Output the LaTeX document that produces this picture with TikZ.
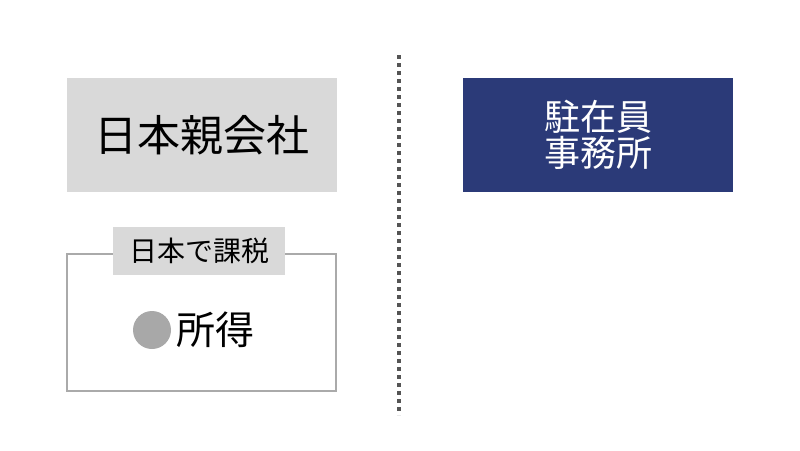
\documentclass[tikz,border=0pt]{standalone}
\usepackage{fontspec}
\setmainfont{Noto Sans CJK JP}
\usetikzlibrary{positioning}
\definecolor{boxgray}{HTML}{D9D9D9}
\definecolor{navy}{HTML}{2B3A78}
\definecolor{framegray}{HTML}{AAAAAA}
\definecolor{dotgray}{HTML}{A8A8A8}
\definecolor{linegray}{HTML}{555555}
\tikzstyle{company}=[fill=boxgray, minimum width=270, minimum height=114, inner sep=0, font=\fontsize{43}{46}\selectfont]
\tikzstyle{office}=[fill=navy, text=white, minimum width=270, minimum height=114, inner sep=0, align=center, font=\fontsize{36}{36}\selectfont]

\begin{document}
\begin{tikzpicture}[x=1pt,y=-1pt]
\useasboundingbox (0,0) rectangle (800,450);
\node[company] (parent) at (202,135) {日本親会社};
\node[office] (rep) at (598,135) {駐在員\\事務所};
% taxed box
\draw[framegray, line width=2.5] (67,254) rectangle (336,391);
\node[fill=boxgray, minimum width=172, minimum height=48, inner sep=0, font=\fontsize{28}{30}\selectfont] (tax) at (199,250.5) {日本で課税};
\node[circle, fill=dotgray, minimum size=38, inner sep=0] (dot) at (152,330) {};
\node[right=5 of dot, inner sep=0, font=\fontsize{39}{42}\selectfont] (income) {所得};
% divider
\coordinate (top) at (399,55);
\coordinate (bottom) at (399,415);
\draw[linegray, line width=4, dash pattern=on 4 off 4] (top) -- (bottom);
\end{tikzpicture}
\end{document}
